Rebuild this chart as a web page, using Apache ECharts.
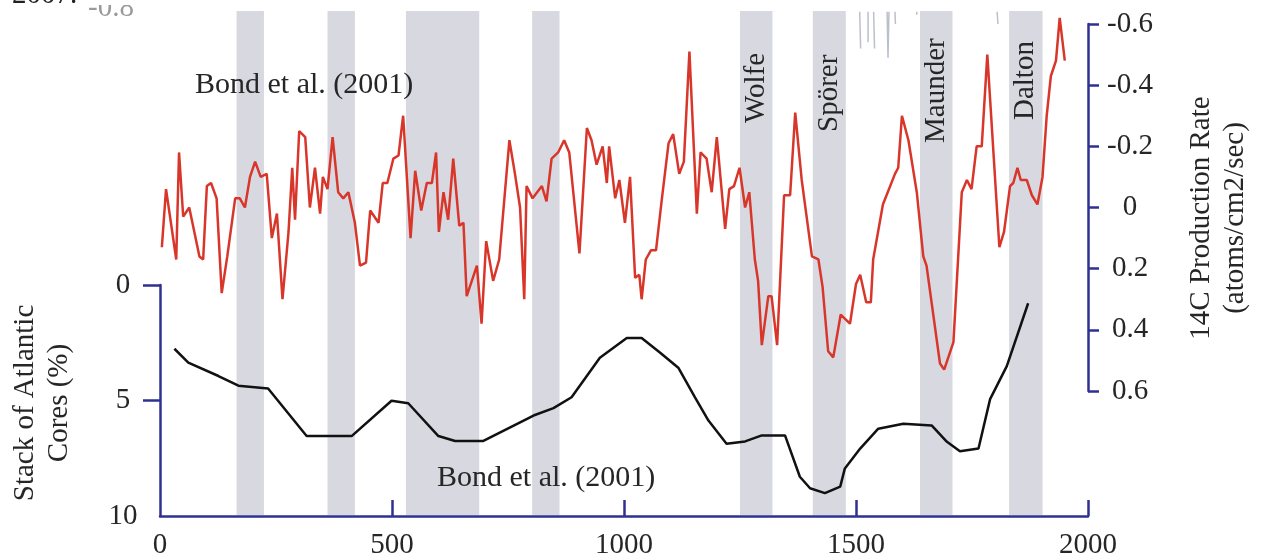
<!DOCTYPE html>
<html><head><meta charset="utf-8">
<script src="https://cdn.jsdelivr.net/npm/echarts@6/dist/echarts.min.js"></script>
<style>html,body{margin:0;padding:0;background:#fff}#c{width:1263px;height:560px}</style>
</head><body><div id="c"></div>
<script>
// ---- data ----
const xTickLabels = [0, 500, 1000, 1500, 2000];
const leftTickLabels = [0, 5, 10];
const rightTickLabels = [-0.6, -0.4, -0.2, 0, 0.2, 0.4, 0.6];

const bandStarts = [165, 361, 530, 802, 1250, 1407, 1638, 1830];
const bandEnds   = [224, 420, 688, 861, 1320, 1478, 1708, 1902];

const minimumNames = ['Wolfe', 'Spörer', 'Maunder', 'Dalton'];
const minimumBands = [4, 5, 6, 7];

const c14Years = [4,13,35,41,50,63,85,93,101,110,122,133,145,162,172,183,194,205,217,230,241,252,264,277,285,291,300,313,323,334,345,351,361,372,384,395,406,420,431,444,453,471,480,490,503,514,524,540,550,563,575,586,595,601,611,621,632,645,654,661,672,683,693,703,718,731,753,765,776,785,790,803,823,833,844,858,871,882,904,920,930,941,954,963,968,981,990,1002,1013,1024,1033,1038,1047,1058,1069,1081,1096,1106,1119,1129,1141,1157,1165,1178,1189,1200,1218,1227,1237,1249,1261,1270,1282,1289,1297,1311,1318,1330,1345,1358,1369,1383,1405,1419,1428,1440,1451,1467,1487,1500,1509,1522,1532,1537,1558,1584,1591,1599,1613,1631,1645,1652,1681,1690,1710,1728,1739,1749,1760,1771,1783,1809,1819,1832,1839,1848,1855,1868,1879,1891,1902,1911,1920,1931,1939,1950];
const c14Values = [0.13,-0.06,0.17,-0.18,0.03,0.00,0.16,0.17,-0.07,-0.08,-0.03,0.28,0.16,-0.03,-0.03,0.00,-0.10,-0.15,-0.10,-0.11,0.10,0.02,0.30,0.08,-0.13,0.04,-0.25,-0.23,0.00,-0.13,0.02,-0.10,-0.06,-0.23,-0.05,-0.03,-0.05,0.05,0.19,0.18,0.01,0.05,-0.08,-0.08,-0.16,-0.17,-0.30,0.10,-0.12,0.01,-0.08,-0.08,-0.18,0.08,-0.05,0.04,-0.16,0.06,0.05,0.29,0.24,0.19,0.38,0.11,0.24,0.17,-0.22,-0.11,0.00,0.30,-0.07,-0.03,-0.07,-0.02,-0.16,-0.18,-0.22,-0.18,0.15,-0.26,-0.22,-0.14,-0.20,-0.08,-0.20,-0.03,-0.09,0.05,-0.10,0.23,0.22,0.30,0.17,0.14,0.14,-0.02,-0.21,-0.24,-0.11,-0.15,-0.51,0.02,-0.18,-0.16,-0.05,-0.23,0.07,-0.06,-0.07,-0.13,0.00,-0.05,0.17,0.24,0.45,0.29,0.29,0.45,-0.04,-0.04,-0.31,-0.09,0.16,0.17,0.26,0.47,0.49,0.35,0.38,0.25,0.22,0.31,0.31,0.17,-0.01,-0.11,-0.13,-0.30,-0.22,-0.05,0.16,0.19,0.51,0.53,0.44,-0.05,-0.09,-0.06,-0.20,-0.20,-0.50,0.13,0.08,-0.07,-0.08,-0.13,-0.09,-0.09,-0.04,-0.01,-0.10,-0.30,-0.43,-0.48,-0.62,-0.48];

const bondYears = [31,61,126,169,233,316,413,499,535,600,636,697,805,848,887,948,1006,1038,1078,1117,1153,1182,1221,1261,1297,1347,1379,1401,1433,1466,1476,1509,1548,1602,1663,1696,1724,1764,1789,1825,1871];
const bondValues = [2.76,3.36,3.94,4.36,4.48,6.54,6.54,5.01,5.12,6.54,6.75,6.75,5.65,5.33,4.86,3.15,2.29,2.29,2.93,3.58,4.86,5.87,6.87,6.77,6.51,6.51,8.30,8.80,9.01,8.73,7.94,7.08,6.22,6.01,6.08,6.79,7.20,7.08,4.94,3.51,0.79];

// faint cut-off trace from an upper panel
const upperYears  = [1508,1510,null,1526,1526,null,1538,1540,null,1567,1569,1571,null,1584,1585,null,1631,1631,null,1804,1806];
const upperValues = [-0.64,-0.52,null,-0.64,-0.54,null,-0.64,-0.52,null,-0.64,-0.49,-0.64,null,-0.64,-0.60,null,-0.64,-0.63,null,-0.64,-0.60];

// ---- styling ----
const NAVY = '#2e3192';
const FONT = "'Liberation Serif','Times New Roman',serif";
const TXT = '#262626';
const FS = 29;

const chart = echarts.init(document.getElementById('c'), null, {renderer: 'canvas'});
const G = {left: 160, right: 175};

const option = {
  animation: false,
  backgroundColor: '#fff',
  grid: [
    {left: G.left, right: G.right, top: 285, bottom: 42},
    {left: G.left, right: G.right, top: 24, bottom: 169},
    {left: G.left, right: G.right, top: 11, bottom: 45}
  ],
  xAxis: [
    {type: 'value', gridIndex: 0, min: 0, max: 2000, interval: 500, position: 'bottom',
     axisLine: {show: true, onZero: false, lineStyle: {color: NAVY, width: 2.5}},
     axisTick: {show: true, inside: true, length: 16, lineStyle: {color: NAVY, width: 2.5}, customValues: xTickLabels.slice(1)},
     axisLabel: {customValues: xTickLabels, fontFamily: FONT, fontSize: FS, color: TXT, margin: 15, formatter: v => String(v)},
     splitLine: {show: false}},
    {type: 'value', gridIndex: 1, min: 0, max: 2000, show: false},
    {type: 'value', gridIndex: 2, min: 0, max: 2000, show: false}
  ],
  yAxis: [
    {type: 'value', gridIndex: 0, min: 0, max: 10, interval: 5, inverse: true, position: 'left',
     axisLine: {show: true, onZero: false, lineStyle: {color: NAVY, width: 2.5}},
     axisTick: {show: true, inside: false, length: 17, lineStyle: {color: NAVY, width: 2.5}, customValues: [0, 5]},
     axisLabel: {customValues: leftTickLabels, fontFamily: FONT, fontSize: FS, color: TXT, align: 'center', margin: 37},
     splitLine: {show: false}},
    {type: 'value', gridIndex: 1, min: -0.6, max: 0.6, interval: 0.2, inverse: true, position: 'right',
     axisLine: {show: true, onZero: false, lineStyle: {color: NAVY, width: 2.5}},
     axisTick: {show: true, inside: false, length: 11, lineStyle: {color: NAVY, width: 2.5}},
     axisLabel: {customValues: rightTickLabels, fontFamily: FONT, fontSize: FS, color: TXT, align: 'center', margin: 42,
       formatter: v => Math.abs(v) < 1e-9 ? '0' : v.toFixed(1)},
     splitLine: {show: false}},
    {type: 'value', gridIndex: 2, min: 0, max: 1, show: false}
  ],
  series: [
    {type: 'custom', xAxisIndex: 2, yAxisIndex: 2, z: 1, silent: true,
     data: bandStarts.map((s, i) => [s, bandEnds[i]]),
     renderItem: (params, api) => {
       const p1 = api.coord([api.value(0), 1]);
       const p2 = api.coord([api.value(1), 0]);
       return {type: 'rect', shape: {x: p1[0], y: p1[1], width: p2[0] - p1[0], height: p2[1] - p1[1]},
               style: {fill: '#d8d9e0'}};
     }},
    {type: 'line', xAxisIndex: 1, yAxisIndex: 1, z: 2, clip: false, symbol: 'none', silent: true,
     connectNulls: false,
     data: upperYears.map((y, i) => y === null ? ['-', '-'] : [y, upperValues[i]]),
     lineStyle: {color: '#bcc0cc', width: 1.5}},
    {type: 'line', xAxisIndex: 1, yAxisIndex: 1, z: 3, clip: false, symbol: 'none', silent: true,
     data: c14Years.map((y, i) => [y, c14Values[i]]),
     lineStyle: {color: '#d9362b', width: 2.5}},
    {type: 'line', xAxisIndex: 0, yAxisIndex: 0, z: 3, clip: false, symbol: 'none', silent: true,
     data: bondYears.map((y, i) => [y, bondValues[i]]),
     lineStyle: {color: '#111111', width: 2.5}}
  ]
};
chart.setOption(option);

// text labels
const labelBottoms = [123, 132, 143, 120];
const graphics = [];
minimumNames.forEach((name, i) => {
  const b = minimumBands[i];
  const cx = chart.convertToPixel({xAxisIndex: 2}, (bandStarts[b] + bandEnds[b]) / 2);
  graphics.push({type: 'text', x: cx, y: labelBottoms[i], rotation: Math.PI / 2, z: 10,
    style: {text: name, font: `${FS}px ${FONT}`, fill: TXT, align: 'left', verticalAlign: 'middle'}});
});
graphics.push(
  {type: 'text', x: 195, y: 85, z: 10, style: {text: 'Bond et al. (2001)', font: `30px ${FONT}`, fill: TXT, align: 'left', verticalAlign: 'middle'}},
  {type: 'text', x: 437, y: 478, z: 10, style: {text: 'Bond et al. (2001)', font: `30px ${FONT}`, fill: TXT, align: 'left', verticalAlign: 'middle'}},
  {type: 'text', x: 42, y: 403, rotation: Math.PI / 2, z: 10,
   style: {text: 'Stack of Atlantic\nCores (%)', font: `${FS}px ${FONT}`, lineHeight: 34, fill: TXT, align: 'center', verticalAlign: 'middle'}},
  {type: 'text', x: 1218, y: 218, rotation: Math.PI / 2, z: 10,
   style: {text: '14C Production Rate\n(atoms/cm2/sec)', font: `${FS}px ${FONT}`, lineHeight: 34, fill: TXT, align: 'center', verticalAlign: 'middle'}},
  {type: 'text', x: 12, y: -5, z: 10, style: {text: '2007.', font: `${FS}px ${FONT}`, fill: '#222', align: 'left', verticalAlign: 'middle'}},
  {type: 'text', x: 88, y: 8, z: 10, style: {text: '-0.8', font: `${FS}px ${FONT}`, fill: '#9a9a9a', align: 'left', verticalAlign: 'middle'}},
  {type: 'rect', z: 11, shape: {x: 80, y: 0, width: 70, height: 5}, style: {fill: '#fff'}}
);
chart.setOption({graphic: graphics});
</script>
</body></html>
